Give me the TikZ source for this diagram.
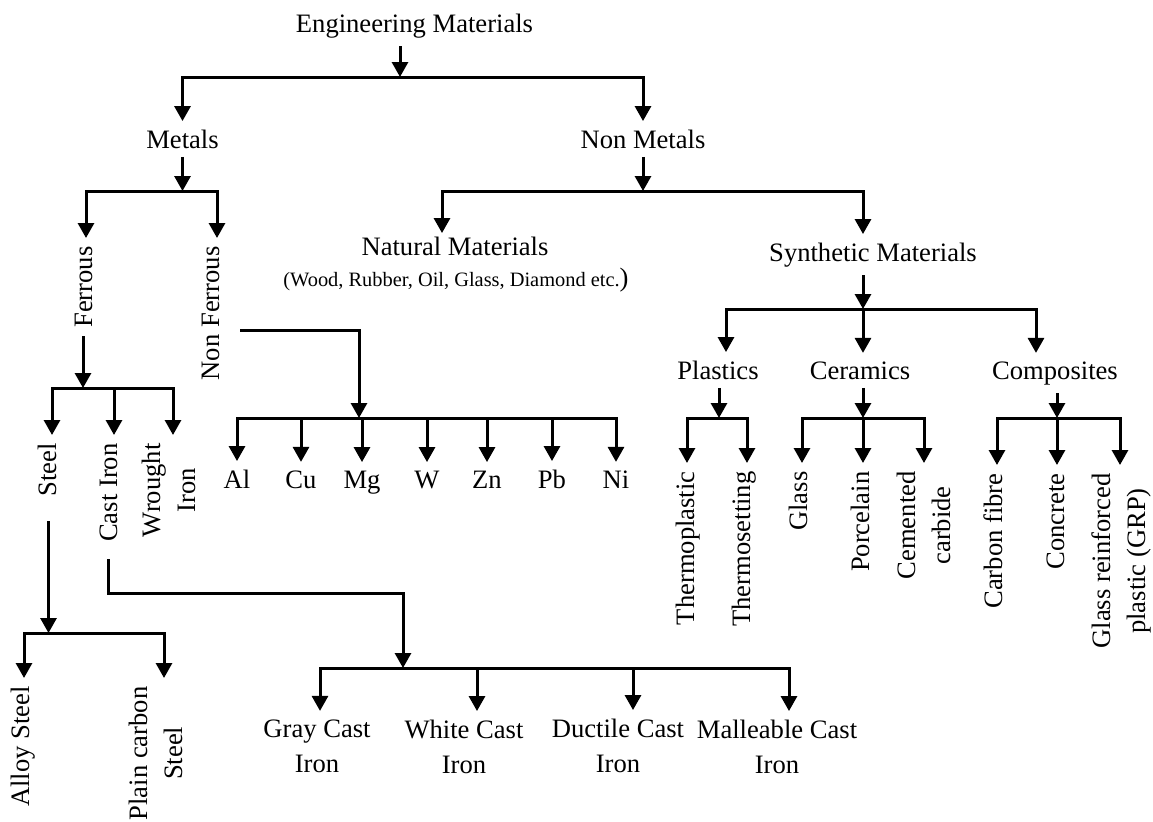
\documentclass[tikz,border=0pt]{standalone}
\usepackage{fontspec}
\setmainfont{Liberation Serif}
\usetikzlibrary{arrows.meta}
\begin{document}
\begin{tikzpicture}[x=0.5pt,y=-0.5pt,
  line width=1.5pt,
  arr/.style={-{Triangle[width=8pt,length=7.5pt]}},
  lbl/.style={anchor=base,inner sep=3.5pt,font=\fontsize{13.3}{17.5}\selectfont,align=center},
  rlbl/.style={rotate=90,anchor=base east,inner sep=3.5pt,font=\fontsize{13.3}{17.5}\selectfont,align=center}]
\useasboundingbox (0,0) rectangle (1153,821);
% ---------- nodes ----------
\node[lbl] (em) at (414.5,32) {Engineering Materials};
\node[lbl] (metals) at (182.5,148) {Metals};
\node[lbl] (nonmet) at (643,148) {Non Metals};
\node[lbl,inner ysep=1pt] (nat) at (455,255) {Natural Materials};
\node[lbl] (natsub) at (456,286) {{\fontsize{10.2}{12}\selectfont(Wood, Rubber, Oil, Glass, Diamond etc.}{)}};
\node[lbl] (syn) at (873,261) {Synthetic Materials};
\node[lbl] (pl) at (718,379) {Plastics};
\node[lbl] (cer) at (860,379) {Ceramics};
\node[lbl] (comp) at (1055,379) {Composites};
\node[rlbl] (fer) at (92,238) {Ferrous};
\node[rlbl] (nf) at (219,238) {Non Ferrous};
\node[rlbl] (steel) at (56,435) {Steel};
\node[rlbl] (cast) at (117,435) {Cast Iron};
\node[rlbl] (wi) at (195,435) {Wrought\\Iron};
\node[lbl] (al) at (237,488) {Al};
\node[lbl] (cu) at (301,488) {Cu};
\node[lbl] (mg) at (362,488) {Mg};
\node[lbl] (w) at (427,488) {W};
\node[lbl] (zn) at (487,488) {Zn};
\node[lbl] (pb) at (552,488) {Pb};
\node[lbl] (ni) at (616,488) {Ni};
\node[rlbl] (tp) at (694,463) {Thermoplastic};
\node[rlbl] (ts) at (750,463) {Thermosetting};
\node[rlbl] (gl) at (807,463) {Glass};
\node[rlbl] (por) at (869,463) {Porcelain};
\node[rlbl] (cem) at (950,463) {Cemented\\carbide};
\node[rlbl] (cf) at (1002,465) {Carbon fibre};
\node[rlbl] (con) at (1064,465) {Concrete};
\node[rlbl] (grp) at (1145,465) {Glass reinforced\\plastic (GRP)};
\node[rlbl] (alloy) at (30,678) {Alloy Steel};
\node[rlbl] (plain) at (182,678) {Plain carbon\\Steel};
\node[lbl] (gray) at (317,772) {Gray Cast\\Iron};
\node[lbl] (white) at (464,773) {White Cast\\Iron};
\node[lbl] (duct) at (618,772) {Ductile Cast\\Iron};
\node[lbl] (mall) at (777,773) {Malleable Cast\\Iron};
% ---------- junctions ----------
\coordinate (j0) at (400,77);
\coordinate (jm) at (182.5,191);
\coordinate (jnm) at (643,191);
\coordinate (js) at (863,309);
\coordinate (jf) at (83,388);
\coordinate (jn) at (359,418);
\coordinate (nfo) at (240,330);
\coordinate (jp) at (719,418);
\coordinate (jc) at (863,418);
\coordinate (jco) at (1057,418);
\coordinate (jst) at (48.5,633);
\coordinate (ciK) at (403,593);
\coordinate (jci) at (403,668);
\coordinate (xFer) at (86,0);
\coordinate (xNF) at (217,0);
\coordinate (xNat) at (442,0);
\coordinate (xPl) at (726,0);
\coordinate (xComp) at (1036,0);
\coordinate (xSt) at (52,0);
\coordinate (xCI) at (114,0);
\coordinate (xWI) at (173,0);
\coordinate (xStl) at (48.5,0);
\coordinate (xCast) at (108.5,0);
% ---------- connectors ----------
\draw[arr] (em.south -| j0) -- (j0);
\draw[arr] (j0) -| (metals.north);
\draw[arr] (j0) -| (nonmet.north);
% Metals
\draw[arr] (metals.south) -- (jm);
\draw[arr] (jm) -| (xFer |- fer.east);
\draw[arr] (jm) -| (xNF |- nf.east);
% Ferrous
\draw[arr] (jf |- fer.west) -- (jf);
\draw[arr] (jf) -| (xSt |- steel.east);
\draw[arr] (jf) -| (xWI |- wi.east);
\draw[arr] (xCI |- jf) -- (xCI |- cast.east);
% Non Ferrous
\draw[arr] (nfo) -| (jn);
\draw[arr] (jn) -| (al.north);
\draw[arr] (jn) -| (ni.north);
\draw[arr] (cu.north |- jn) -- (cu.north);
\draw[arr] (mg.north |- jn) -- (mg.north);
\draw[arr] (w.north |- jn) -- (w.north);
\draw[arr] (zn.north |- jn) -- (zn.north);
\draw[arr] (pb.north |- jn) -- (pb.north);
% Non Metals
\draw[arr] (nonmet.south) -- (jnm);
\draw[arr] (jnm) -| (xNat |- nat.north);
\draw[arr] (jnm) -| (js |- syn.north);
% Synthetic
\draw[arr] (js |- syn.south) -- (js);
\draw[arr] (js) -| (xPl |- pl.north);
\draw[arr] (js) -| (xComp |- comp.north);
\draw[arr] (js) -- (js |- cer.north);
% Plastics
\draw[arr] (jp |- pl.south) -- (jp);
\draw[arr] (jp) -| (687,0 |- tp.east);
\draw[arr] (jp) -| (747,0 |- ts.east);
% Ceramics
\draw[arr] (jc |- cer.south) -- (jc);
\draw[arr] (jc) -| (802,0 |- gl.east);
\draw[arr] (jc) -| (924,0 |- cem.east);
\draw[arr] (jc) -- (jc |- por.east);
% Composites
\draw[arr] (jco |- comp.south) -- (jco);
\draw[arr] (jco) -| (997,0 |- cf.east);
\draw[arr] (jco) -| (1120,0 |- grp.east);
\draw[arr] (jco) -- (jco |- con.east);
% Steel
\draw[arr,shorten <=8pt] (xStl |- steel.west) -- (jst);
\draw[arr] (jst) -| (24,0 |- alloy.east);
\draw[arr] (jst) -| (164,0 |- plain.east);
% Cast iron
\draw[arr,shorten <=4.5pt] (xCast |- cast.west) |- (ciK) -- (jci);
\draw[arr] (jci) -| (320,0 |- gray.north);
\draw[arr] (jci) -| (789,0 |- mall.north);
\draw[arr] (477,0 |- jci) -- (477,0 |- white.north);
\draw[arr] (633,0 |- jci) -- (633,0 |- duct.north);
\end{tikzpicture}
\end{document}
